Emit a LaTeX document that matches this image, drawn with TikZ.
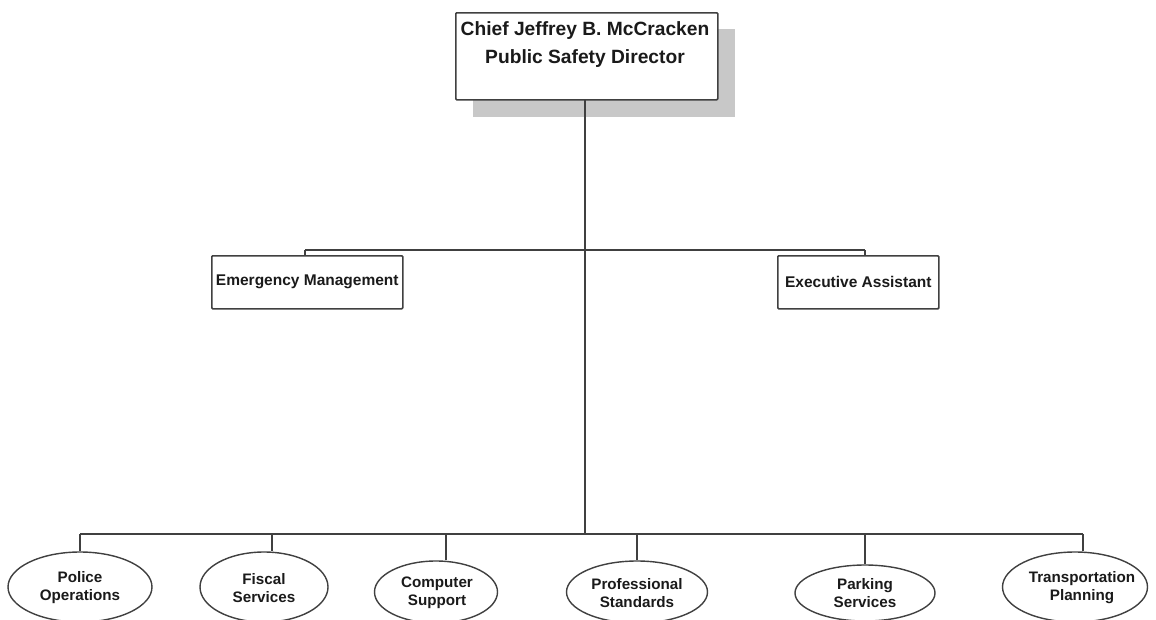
\documentclass[tikz,border=0pt]{standalone}
\usepackage{fontspec}
\setmainfont{Liberation Sans}
\usetikzlibrary{shapes.geometric}
\definecolor{linec}{HTML}{404040}
\definecolor{textc}{HTML}{1A1A1A}
\definecolor{shadowc}{HTML}{C8C8C8}
\tikzset{
  conn/.style={draw=linec, line width=1.6pt},
  rectbox/.style={draw=linec, line width=1.6pt, fill=white, rounded corners=1pt, text=textc, font=\fontsize{15.5}{18}\selectfont\bfseries, align=center},
  ovalbox/.style={draw=linec, line width=1.4pt, fill=white, ellipse, inner sep=0pt},
  ovaltext/.style={text=textc, font=\fontsize{15.2}{18}\selectfont\bfseries, align=center, inner sep=0pt},
}
\begin{document}
\begin{tikzpicture}[x=1pt,y=-1pt]
\clip (0,0) rectangle (1156,619);
\fill[white] (0,0) rectangle (1156,619);
% shadow
\fill[shadowc] (473,29) rectangle (735,117);
% top box
\node[rectbox, minimum width=262pt, minimum height=87pt, anchor=north west] (chief) at (455,12) {};
\node[text=textc, font=\fontsize{19.2}{28}\selectfont\bfseries, align=center, inner sep=0pt] (chieft) at (585,45) {Chief Jeffrey B. McCracken\\Public Safety Director};
% second level
\node[rectbox, minimum width=191pt, minimum height=53pt, anchor=north west] (em) at (211,255) {Emergency Management};
\node[rectbox, minimum width=161pt, minimum height=53pt, anchor=north west] (ea) at (777,255) {Executive Assistant};
% ellipses
\node[ovalbox, minimum width=144pt, minimum height=70pt] (po) at (80,587) {};
\node[ovaltext] (pot) at (80,588) {Police\\Operations};
\node[ovalbox, minimum width=128pt, minimum height=70pt] (fs) at (264,587) {};
\node[ovaltext] (fst) at (264,588) {Fiscal\\Services};
\node[ovalbox, minimum width=123pt, minimum height=62pt] (cs) at (436,592) {};
\node[ovaltext] (cst) at (437,593) {Computer\\Support};
\node[ovalbox, minimum width=141pt, minimum height=62pt] (ps) at (637,592) {};
\node[ovaltext] (pst) at (637,593) {Professional\\Standards};
\node[ovalbox, minimum width=140pt, minimum height=56pt] (pk) at (865,593) {};
\node[ovaltext] (pkt) at (865,593) {Parking\\Services};
\node[ovalbox, minimum width=145pt, minimum height=70pt] (tp) at (1075,587) {};
\node[ovaltext] (tpt) at (1082,588) {Transportation\\Planning};
% coordinates
\coordinate (top) at (585,99);
\coordinate (bot) at (585,534);
\coordinate (m1) at (305,250);
\coordinate (m2) at (865,250);
\coordinate (b1) at (80,534);
\coordinate (b2) at (272,534);
\coordinate (b3) at (446,534);
\coordinate (b4) at (637,534);
\coordinate (b5) at (865,534);
\coordinate (b6) at (1083,534);
\draw[conn] (top) -- (bot);
\draw[conn] (m1) -- (m2);
\draw[conn] (m1) -- (m1 |- em.north);
\draw[conn] (m2) -- (m2 |- ea.north);
\draw[conn] (b1) -- (b6);
\draw[conn] (b1) -- (b1 |- po.north);
\draw[conn] (b2) -- (b2 |- fs.north);
\draw[conn] (b3) -- (b3 |- cs.north);
\draw[conn] (b4) -- (b4 |- ps.north);
\draw[conn] (b5) -- (b5 |- pk.north);
\draw[conn] (b6) -- (b6 |- tp.north);
\end{tikzpicture}
\end{document}
